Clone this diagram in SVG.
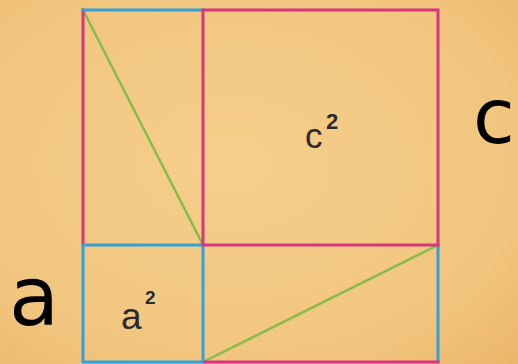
<svg xmlns="http://www.w3.org/2000/svg" width="518" height="364" viewBox="0 0 518 364">
<defs>
<radialGradient id="bg" cx="0.45" cy="0.45" r="0.8">
<stop offset="0" stop-color="#f5cf8c"/>
<stop offset="0.7" stop-color="#f1c57e"/>
<stop offset="1" stop-color="#ebb467"/>
</radialGradient>
<style>
.b{stroke:#34a0d8;stroke-width:3;fill:none;stroke-linecap:square}
.m{stroke:#d8357f;stroke-width:3;fill:none;stroke-linecap:square}
.g{stroke:#86bd48;stroke-width:2.5;fill:none;stroke-linecap:round}
.lbl{font-family:"Liberation Sans",Arial,sans-serif;fill:#2b2b2b}
.big{font-family:"DejaVu Sans","Noto Sans",sans-serif;fill:#000}
</style>
</defs>
<rect x="0" y="0" width="518" height="364" fill="url(#bg)"/>
<g id="connectors">
<line class="g" x1="83" y1="10" x2="203" y2="245"/>
<line class="g" x1="203" y1="362" x2="438" y2="245"/>
</g>
<g id="top-left-rect">
<line class="m" x1="83" y1="10" x2="83" y2="245"/>
<line class="b" x1="83" y1="10" x2="203" y2="10"/>
</g>
<g id="a2-square">
<rect class="b" x="83" y="245" width="120" height="117"/>
<text class="lbl" x="121" y="329" font-size="37">a</text>
<text class="lbl" x="145" y="304" font-size="19" font-weight="bold">2</text>
</g>
<g id="bottom-right-rect">
<line class="b" x1="438" y1="245" x2="438" y2="362"/>
<line class="m" x1="205" y1="362" x2="438" y2="362"/>
</g>
<g id="c2-square">
<rect class="m" x="203" y="10" width="235" height="235"/>
<text class="lbl" x="305" y="148" font-size="35">c</text>
<text class="lbl" x="326" y="129" font-size="22" font-weight="bold">2</text>
</g>
<g id="label-a">
<text class="big" x="9" y="325" font-size="82">a</text>
</g>
<g id="label-c">
<text class="big" x="473" y="143" font-size="76">c</text>
</g>
</svg>
